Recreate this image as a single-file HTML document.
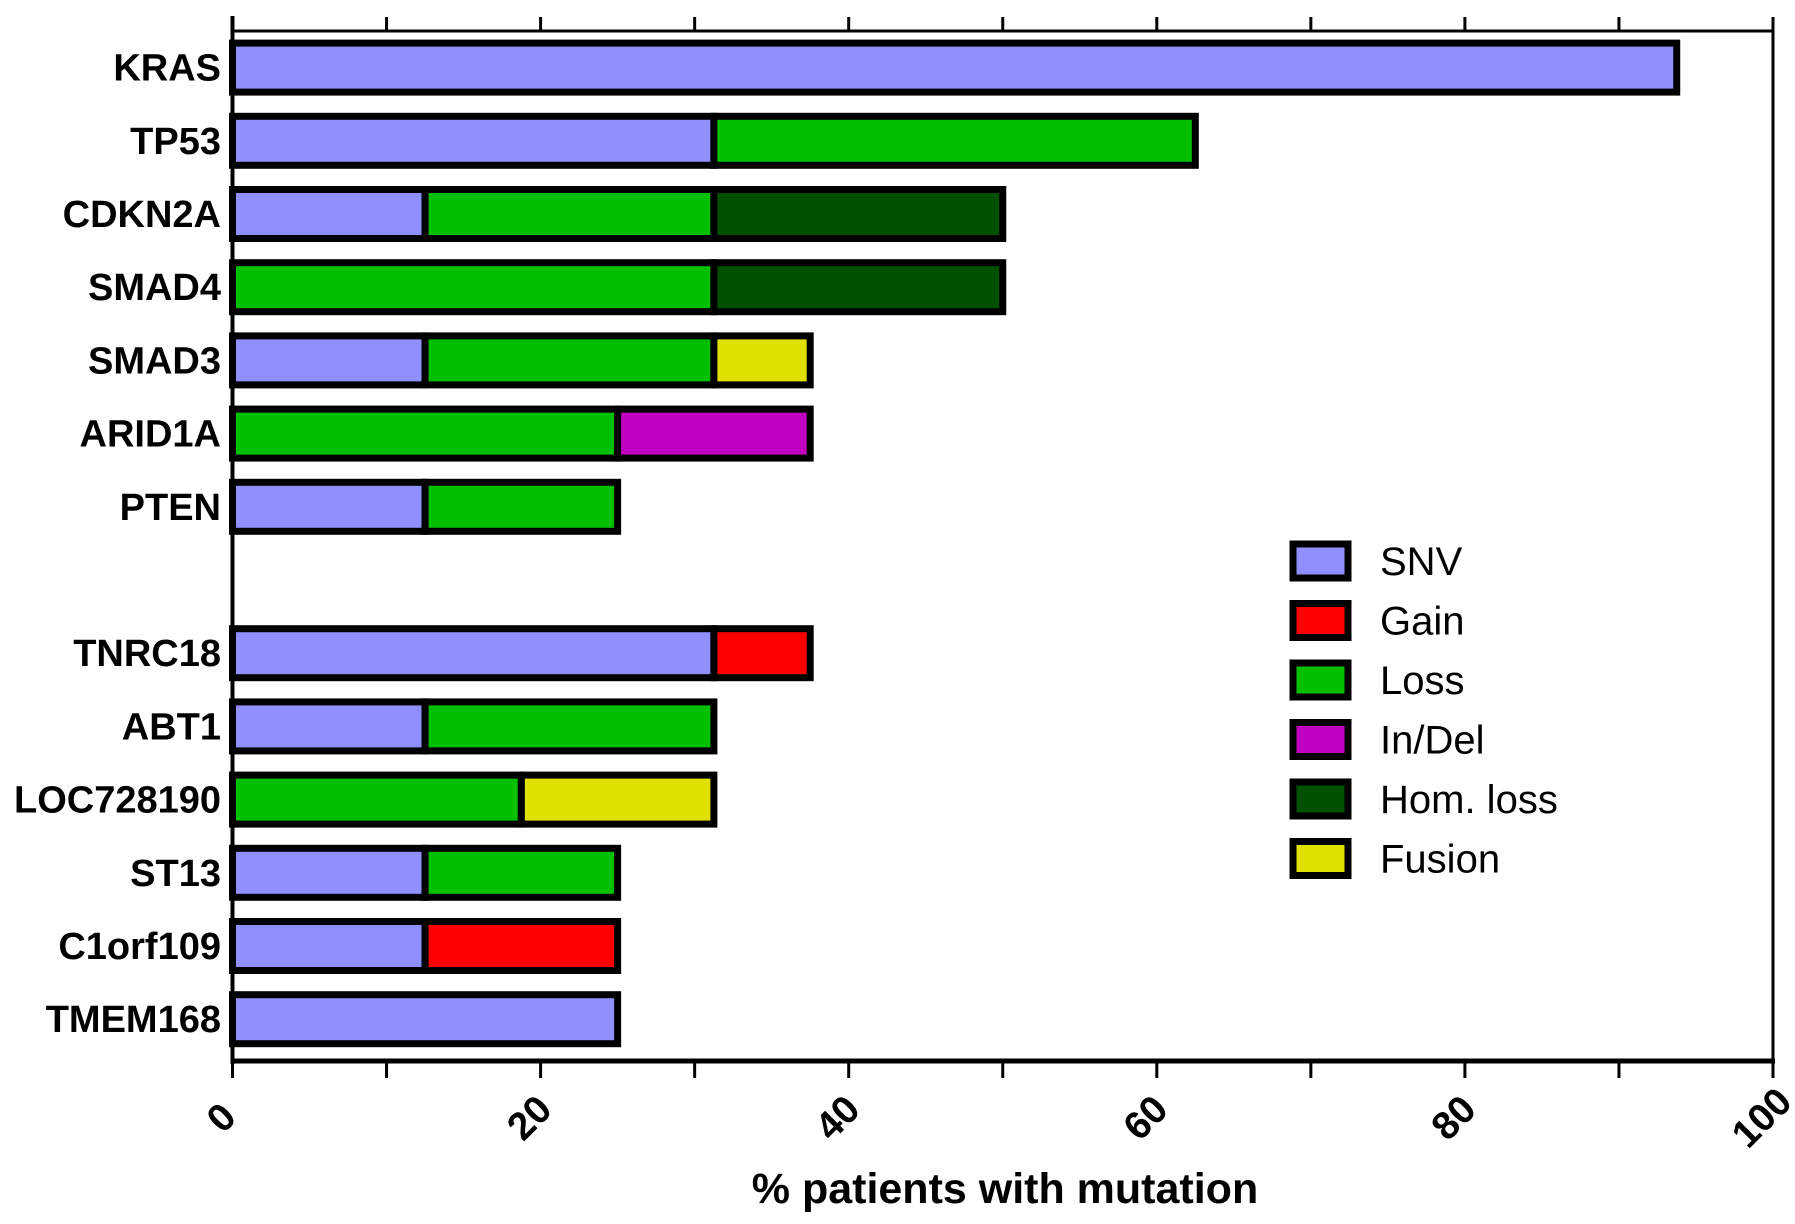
<!DOCTYPE html>
<html><head><meta charset="utf-8"><style>
html,body{margin:0;padding:0;background:#fff;}
svg{display:block;font-family:"Liberation Sans",Arial,sans-serif;}
</style></head><body>
<svg id="chart" width="1795" height="1224" viewBox="0 0 1795 1224" xmlns="http://www.w3.org/2000/svg">
<g id="plot"></g>
</svg>
<script>
const genes = ["KRAS","TP53","CDKN2A","SMAD4","SMAD3","ARID1A","PTEN","","TNRC18","ABT1","LOC728190","ST13","C1orf109","TMEM168"];
const seriesNames = ["SNV","Gain","Loss","In/Del","Hom. loss","Fusion"];
const seriesColors = ["#8f8fff","#ff0000","#00c000","#c000c0","#005000","#e0e000"];
const snv     = [93.75,31.25,12.5,0,12.5,0,12.5,0,31.25,12.5,0,12.5,12.5,25];
const gain    = [0,0,0,0,0,0,0,0,6.25,0,0,0,12.5,0];
const loss    = [0,31.25,18.75,31.25,18.75,25,12.5,0,0,18.75,18.75,12.5,0,0];
const indel   = [0,0,0,0,0,12.5,0,0,0,0,0,0,0,0];
const homLoss = [0,0,18.75,18.75,0,0,0,0,0,0,0,0,0,0];
const fusion  = [0,0,0,0,6.25,0,0,0,0,0,12.5,0,0,0];
const xTicks = [0,20,40,60,80,100];
const series = [snv,gain,loss,indel,homLoss,fusion];
const stackOrder = [0,2,4,3,1,5];

const NS="http://www.w3.org/2000/svg";
const g=document.getElementById('plot');
const X0=232.5, X1=1773, YTOP=31, YBOT=1061;
const xs=v=>X0+(X1-X0)*v/100;
const rowY=i=>67.6+i*73.2;
const BH=49;
function el(t,a){const e=document.createElementNS(NS,t);for(const k in a)e.setAttribute(k,a[k]);g.appendChild(e);return e;}

let e;
e=el('line',{x1:X0,y1:16,x2:X0,y2:YBOT+3,stroke:'#000','stroke-width':4});


e=el('line',{x1:X0,y1:YTOP,x2:X1,y2:YTOP,stroke:'#000','stroke-width':3});


e=el('line',{x1:X1,y1:YTOP,x2:X1,y2:YBOT,stroke:'#000','stroke-width':3});


e=el('line',{x1:X0-2,y1:YBOT,x2:X1+2,y2:YBOT,stroke:'#000','stroke-width':5});


for(let v=10;v<=100;v+=10){
  e=el('line',{x1:xs(v),y1:YTOP,x2:xs(v),y2:YTOP-14,stroke:'#000','stroke-width':3});
  
  
}
for(let v=0;v<=100;v+=10){
  e=el('line',{x1:xs(v),y1:YBOT,x2:xs(v),y2:YBOT+17,stroke:'#000','stroke-width':3});
  
  
}
xTicks.forEach(v=>{
  const x=xs(v)-2, y=YBOT+66;
  e=el('text',{x:x,y:y,'font-size':39,'font-weight':'bold','text-anchor':'middle',transform:`rotate(-45 ${x} ${y})`});
  e.textContent=v;
  
  
});
e=el('text',{x:1005,y:1203,'font-size':43,'font-weight':'bold','text-anchor':'middle'});
e.textContent='% patients with mutation';



genes.forEach((gn,i)=>{
  const cy=rowY(i);
  if(gn){
    e=el('text',{x:221,y:cy+13,'font-size':38,'font-weight':'bold','text-anchor':'end'});
    e.textContent=gn;
    
    
  }
  let acc=0;
  stackOrder.forEach(si=>{
    const v=series[si][i];
    if(!v)return;
    const r=el('rect',{x:xs(acc),y:cy-BH/2,width:xs(acc+v)-xs(acc),height:BH,fill:seriesColors[si],stroke:'#000','stroke-width':7});
    
    
    acc+=v;
  });
});

seriesNames.forEach((n,i)=>{
  const y=561+i*59.5;
  e=el('rect',{x:1293,y:y-17,width:55,height:34,fill:seriesColors[i],stroke:'#000','stroke-width':7});
  
  
  e=el('text',{x:1380,y:y+14,'font-size':40});
  e.textContent=n;
  
  
});
</script>
</body></html>
